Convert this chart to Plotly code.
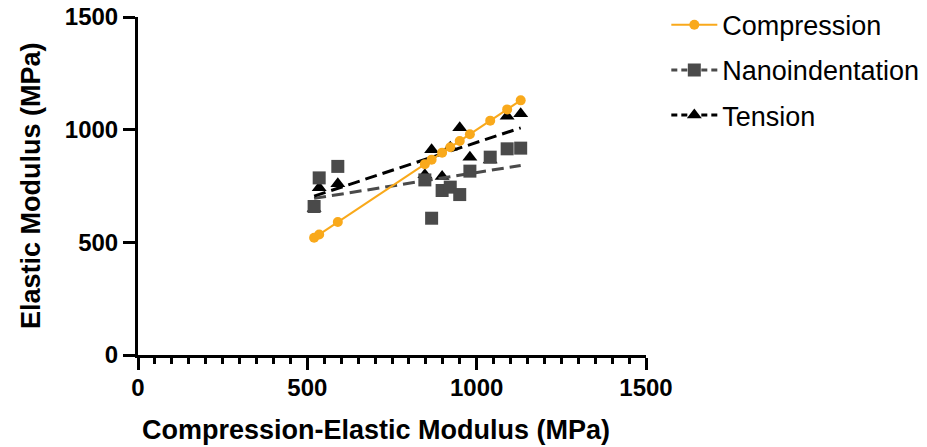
import plotly.graph_objects as go

# Data
compression_x = [520, 535, 590, 847, 867, 898, 922, 950, 980, 1040, 1090, 1130]
compression_y = [520, 535, 590, 847, 867, 898, 922, 950, 980, 1040, 1090, 1130]
nano_y = [659, 786, 837, 777, 607, 730, 745, 712, 816, 878, 915, 918]
tension_y = [650, 742, 760, 800, 911, 792, 922, 1009, 878, 865, 1059, 1071]

# Fitted lines at the ends of the x-range
fit_x = [520, 1130]
nano_fit = [695, 841]
tension_fit = [705, 1008]

x_title = "Compression-Elastic Modulus (MPa)"
y_title = "Elastic Modulus (MPa)"

ORANGE = "#F9A91B"
GRAY = "#4A4A4A"
BLACK = "#000000"
FONT = "Liberation Sans, Arial, Helvetica, sans-serif"
DASH = "12px,6px"

fig = go.Figure()

fig.add_trace(go.Scatter(x=compression_x, y=tension_y, mode="markers",
                         marker=dict(symbol="triangle-up", size=13, color=BLACK),
                         showlegend=False))
fig.add_trace(go.Scatter(x=compression_x, y=nano_y, mode="markers",
                         marker=dict(symbol="square", size=13, color=GRAY),
                         showlegend=False))
fig.add_trace(go.Scatter(x=fit_x, y=nano_fit, mode="lines",
                         line=dict(color=GRAY, width=3, dash=DASH),
                         showlegend=False, hoverinfo="skip"))
fig.add_trace(go.Scatter(x=fit_x, y=tension_fit, mode="lines",
                         line=dict(color=BLACK, width=3, dash=DASH),
                         showlegend=False, hoverinfo="skip"))
fig.add_trace(go.Scatter(x=compression_x, y=compression_y, mode="lines+markers",
                         line=dict(color=ORANGE, width=2),
                         marker=dict(symbol="circle", size=10, color=ORANGE),
                         showlegend=False))

# Legend entries
fig.add_trace(go.Scatter(x=[None], y=[None], mode="lines+markers", name="Compression",
                         line=dict(color=ORANGE, width=2),
                         marker=dict(symbol="circle", size=10, color=ORANGE),
                         legendgroup="a", legendrank=1))
fig.add_trace(go.Scatter(x=[None], y=[None], mode="lines+markers", name="Nanoindentation",
                         line=dict(color=GRAY, width=3, dash="6px,4px"),
                         marker=dict(symbol="square", size=13, color=GRAY),
                         legendgroup="b", legendrank=2))
fig.add_trace(go.Scatter(x=[None], y=[None], mode="lines+markers", name="Tension",
                         line=dict(color=BLACK, width=3, dash="6px,4px"),
                         marker=dict(symbol="triangle-up", size=13, color=BLACK),
                         legendgroup="c", legendrank=3))

axis_common = dict(
    range=[0, 1500], dtick=500, tick0=0,
    showgrid=False, zeroline=False,
    showline=True, linecolor="black", linewidth=3,
    ticks="outside", ticklen=12, tickwidth=3, tickcolor="black",
    ticklabeloverflow="allow",
    tickfont=dict(family=FONT, size=24, color="black", weight="bold"),
)

fig.update_xaxes(**axis_common, ticklabelstandoff=-3,
                 minor=dict(dtick=50, ticks="outside", ticklen=6, tickwidth=2.5,
                            tickcolor="black", showgrid=False))
fig.update_yaxes(**axis_common)

title_font = dict(family=FONT, size=27, color="black", weight="bold")
fig.add_annotation(text=x_title, xref="paper", yref="paper", x=0.469, y=0,
                   xanchor="center", yanchor="middle", yshift=-75,
                   showarrow=False, font=title_font)
fig.add_annotation(text=y_title, xref="paper", yref="paper", x=0, y=0.5,
                   xanchor="center", yanchor="middle", xshift=-107, textangle=-90,
                   showarrow=False, font=title_font)

fig.update_layout(
    width=927, height=447,
    margin=dict(l=137.5, r=281, t=16.5, b=92, autoexpand=False),
    paper_bgcolor="white", plot_bgcolor="white",
    font=dict(family=FONT, color="black"),
    legend=dict(x=1.040, y=1.048, xanchor="left", yanchor="top",
                font=dict(family=FONT, size=27, color="black"),
                tracegroupgap=7, traceorder="grouped",
                bgcolor="rgba(0,0,0,0)", itemwidth=46),
)

fig.write_html("out.html",
               config={"displayModeBar": False},
               post_script="document.body.style.margin='0';document.body.style.overflow='hidden';")
